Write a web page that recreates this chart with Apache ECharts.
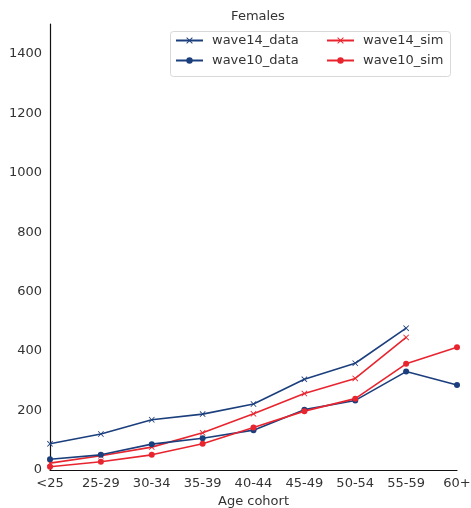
<!DOCTYPE html>
<html><head><meta charset="utf-8">
<script src="https://cdn.jsdelivr.net/npm/echarts@6/dist/echarts.min.js"></script>
<style>html,body{margin:0;padding:0;background:#fff}#c{width:471px;height:508px}</style>
</head><body><div id="c"></div>
<script>
const categories = ['<25','25-29','30-34','35-39','40-44','45-49','50-54','55-59','60+'];
const wave14_data = [88,121,169,188,222,305,359,477,null];
const wave10_data = [36,51,87,107,134,203,234,331,286];
const wave14_sim = [23,48,77,125,189,257,308,446,null];
const wave10_sim = [11,28,51,88,143,198,240,357,413];
const yTicks = [0,200,400,600,800,1000,1200,1400];

const BLUE = '#1b3f7d', RED = '#e8252f';
const XSYM = 'path://M1,0L5,4L9,0L10,1L6,5L10,9L9,10L5,6L1,10L0,9L4,5L0,1Z';
const font = 'DejaVu Sans';
function mk(name, data, color, sym, size){
  return {name, type:'line', data, connectNulls:false,
    symbol: sym, symbolSize: size, showSymbol:true,
    lineStyle:{color, width:1.6}, itemStyle:{color},
    emphasis:{disabled:true}, animation:false};
}
const legBase = {orient:'vertical', top:34, itemGap:7, itemWidth:27, itemHeight:8, padding:0,
  textStyle:{fontFamily:font, fontSize:13, color:'#333', padding:[0,0,0,4]}};
const chart = echarts.init(document.getElementById('c'), null, {renderer:'canvas'});
chart.setOption({
  backgroundColor:'#fff',
  animation:false,
  title:{text:'Females', left:253, top:5, textAlign:'center',
    textStyle:{fontFamily:font, fontSize:13, fontWeight:'normal', color:'#333'}},
  legend:[
    Object.assign({}, legBase, {left:175, data:['wave14_data','wave10_data']}),
    Object.assign({}, legBase, {left:326, data:['wave14_sim','wave10_sim']})
  ],
  graphic:[{type:'rect', left:170, top:31, shape:{width:280, height:45, r:3},
    style:{fill:'rgba(255,255,255,0.8)', stroke:'#d8d8d8', lineWidth:1}, z:-1, silent:true}],
  grid:{left:50, right:14, top:24, bottom:38, containLabel:false, outerBoundsMode:'none'},
  xAxis:{type:'category', data:categories, boundaryGap:false,
    name:'Age cohort', nameLocation:'middle', nameGap:25,
    nameTextStyle:{fontFamily:font, fontSize:13, color:'#333'},
    axisLine:{lineStyle:{color:'#111', width:1.2}}, axisTick:{show:false},
    axisLabel:{fontFamily:font, fontSize:13, color:'#333', margin:7},
    splitLine:{show:false}},
  yAxis:{type:'value', min:0, max:1500, interval:200,
    axisLine:{show:true, lineStyle:{color:'#111', width:1.2}}, axisTick:{show:false},
    axisLabel:{fontFamily:font, fontSize:13, color:'#333', margin:8, showMaxLabel:false,
      formatter:v=> yTicks.includes(v)? String(v):''},
    splitLine:{show:false}},
  series:[
    mk('wave14_data', wave14_data, BLUE, XSYM, 6),
    mk('wave14_sim', wave14_sim, RED, XSYM, 6),
    mk('wave10_data', wave10_data, BLUE, 'circle', 6),
    mk('wave10_sim', wave10_sim, RED, 'circle', 6)
  ]
});
</script></body></html>
